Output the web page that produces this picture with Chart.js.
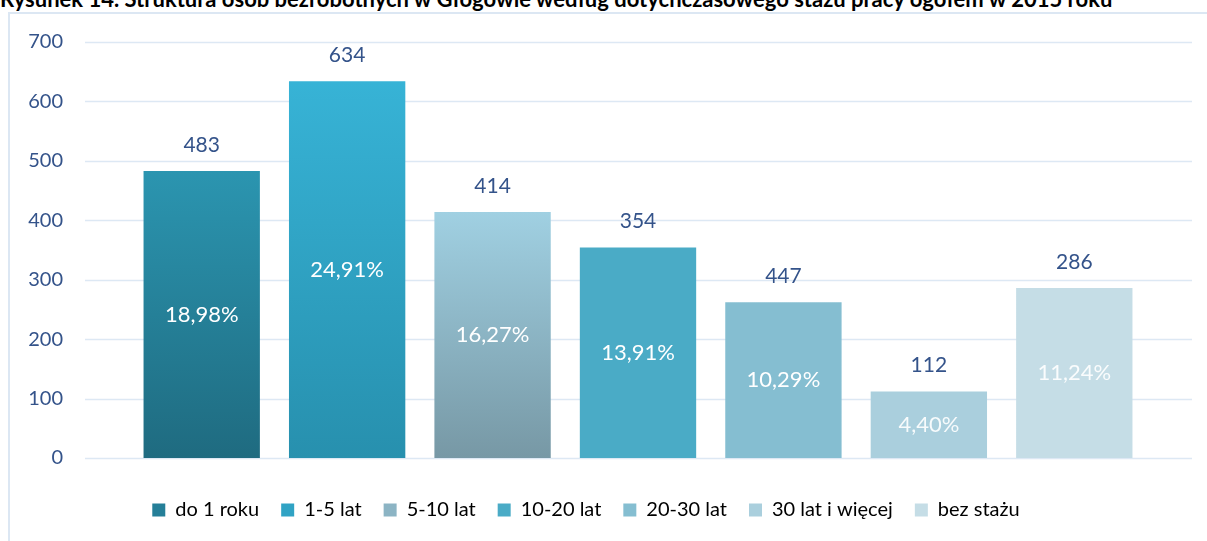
<!DOCTYPE html>
<html>
<head>
<meta charset="utf-8">
<script src="https://cdn.jsdelivr.net/npm/chart.js@4"></script>
<style>
  html, body { margin: 0; padding: 0; background: #fff; overflow: hidden; }
  #wrap { position: relative; width: 1207px; height: 541px; }
  #title {
    position: absolute; left: 0; top: -15px; white-space: nowrap;
    font: bold 22px Lato, sans-serif; color: #000;
  }
  #frame {
    position: absolute; left: 8px; top: 12px; width: 1300px; height: 600px;
    border-left: 2px solid #dce7f3; border-top: 2px solid #dce7f3;
  }
  #chart { position: absolute; left: 0; top: 0; }
</style>
</head>
<body>
<div id="wrap">
  <div id="title">Rysunek 14. Struktura osób bezrobotnych w Głogowie według dotychczasowego stażu pracy ogółem w 2015 roku</div>
  <div id="frame"></div>
  <canvas id="chart" width="1207" height="541"></canvas>
</div>
<script>
// kategorie i wartości
const categories = ['do 1 roku', '1-5 lat', '5-10 lat', '10-20 lat', '20-30 lat', '30 lat i więcej', 'bez stażu'];
const barValues = [483, 634, 414, 354, 262, 112, 286];
// etykiety nad słupkami (tak jak w oryginale, 20-30 lat ma podpis 447)
const valueLabels = ['483', '634', '414', '354', '447', '112', '286'];
const percentLabels = ['18,98%', '24,91%', '16,27%', '13,91%', '10,29%', '4,40%', '11,24%'];
const yTicks = [0, 100, 200, 300, 400, 500, 600, 700];

const topColors = ['#2b95b0', '#37b3d6', '#a0d0e2', '#4aabc6', '#85bed1', '#aacfdd', '#c5dde6'];
const bottomColors = ['#1f6b80', '#2790ae', '#7798a5', '#4aabc6', '#85bed1', '#aacfdd', '#c5dde6'];
const legendColors = ['#257f98', '#30a3c4', '#8cb4c4', '#4aabc6', '#85bed1', '#aacfdd', '#c5dde6'];

const textBlue = '#34538a';
const fontFamily = 'Lato, sans-serif';

function barFill(ctx) {
    const i = ctx.dataIndex;
    const chart = ctx.chart;
    if (!chart.chartArea || !chart.scales.y) return legendColors[i];
    const yScale = chart.scales.y;
    const top = yScale.getPixelForValue(barValues[i]);
    const bottom = yScale.getPixelForValue(0);
    const g = chart.ctx.createLinearGradient(0, top, 0, bottom);
    g.addColorStop(0, topColors[i]);
    g.addColorStop(1, bottomColors[i]);
    return g;
}

const gridPlugin = {
    id: 'wideGrid',
    beforeDatasetsDraw(chart) {
        const c = chart.ctx;
        const y = chart.scales.y;
        c.save();
        c.strokeStyle = '#dde8f4';
        c.lineWidth = 1.5;
        yTicks.forEach(t => {
            const py = Math.round(y.getPixelForValue(t)) + 0.5;
            c.beginPath();
            c.moveTo(85, py);
            c.lineTo(1192, py);
            c.stroke();
        });
        c.restore();
    }
};

const labelPlugin = {
    id: 'barLabels',
    afterDatasetsDraw(chart) {
        const c = chart.ctx;
        const meta = chart.getDatasetMeta(0);
        c.save();
        c.textAlign = 'center';
        c.textBaseline = 'middle';
        meta.data.forEach((bar, i) => {
            c.font = '21px ' + fontFamily;
            c.fillStyle = textBlue;
            c.fillText(valueLabels[i], bar.x, bar.y - 26);
            c.font = '22px ' + fontFamily;
            c.fillStyle = i >= 5 ? 'rgba(255,255,255,0.9)' : '#ffffff';
            c.fillText(percentLabels[i], bar.x, (bar.y + bar.base) / 2);
        });
        c.restore();
    }
};

new Chart(document.getElementById('chart'), {
    type: 'bar',
    data: {
        labels: categories,
        datasets: [{
            data: barValues,
            backgroundColor: barFill,
            borderWidth: 0,
            barPercentage: 0.8,
            categoryPercentage: 1
        }]
    },
    options: {
        responsive: false,
        animation: false,
        layout: { padding: { left: 25, right: 60, top: 42, bottom: 11 } },
        plugins: {
            tooltip: { enabled: false },
            legend: {
                position: 'bottom',
                labels: {
                    boxWidth: 13,
                    boxHeight: 13,
                    padding: 22,
                    color: textBlue,
                    font: { family: fontFamily, size: 20 },
                    generateLabels: () => categories.map((name, i) => ({
                        text: name,
                        fillStyle: legendColors[i],
                        strokeStyle: legendColors[i],
                        lineWidth: 0,
                        hidden: false,
                        index: i
                    }))
                }
            }
        },
        scales: {
            x: {
                afterFit: scale => { scale.height = 20; },
                grid: { display: false },
                border: { display: false },
                ticks: { display: false }
            },
            y: {
                min: 0,
                max: 700,
                afterFit: scale => {
                    scale.width = 104;
                    scale.paddingTop = 0;
                    scale.paddingBottom = 0;
                },
                afterBuildTicks: scale => { scale.ticks = yTicks.map(v => ({ value: v })); },
                grid: { display: false, drawTicks: false },
                border: { display: false },
                ticks: {
                    padding: 66,
                    color: textBlue,
                    font: { family: fontFamily, size: 20 }
                }
            }
        }
    },
    plugins: [gridPlugin, labelPlugin]
});
</script>
</body>
</html>
